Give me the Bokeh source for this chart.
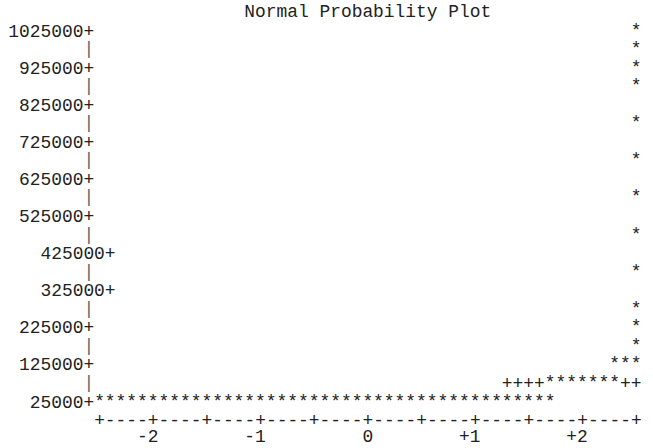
from bokeh.plotting import figure
from bokeh.models import ColumnDataSource, Range1d
from bokeh.embed import file_html
from bokeh.resources import INLINE
from bokeh.core.properties import value

# ---------------- data ----------------
title_text = "Normal Probability Plot"

# observations plotted with '*': (normal quantile, value)
obs_q = [-2.5, -2.4, -2.3, -2.2, -2.1, -2.0, -1.9, -1.8, -1.7, -1.6,
         -1.5, -1.4, -1.3, -1.2, -1.1, -1.0, -0.9, -0.8, -0.7, -0.6,
         -0.5, -0.4, -0.3, -0.2, -0.1, 0.0, 0.1, 0.2, 0.3, 0.4,
         0.5, 0.6, 0.7, 0.8, 0.9, 1.0, 1.1, 1.2, 1.3, 1.4,
         1.5, 1.6, 1.7,
         1.7, 1.8, 1.9, 2.0, 2.1, 2.2, 2.3,
         2.3, 2.4, 2.5,
         2.5, 2.5, 2.5, 2.5, 2.5, 2.5, 2.5, 2.5, 2.5, 2.5, 2.5, 2.5]
obs_v = [25000, 25000, 25000, 25000, 25000, 25000, 25000, 25000, 25000, 25000,
         25000, 25000, 25000, 25000, 25000, 25000, 25000, 25000, 25000, 25000,
         25000, 25000, 25000, 25000, 25000, 25000, 25000, 25000, 25000, 25000,
         25000, 25000, 25000, 25000, 25000, 25000, 25000, 25000, 25000, 25000,
         25000, 25000, 25000,
         75000, 75000, 75000, 75000, 75000, 75000, 75000,
         125000, 125000, 125000,
         175000, 225000, 275000, 375000, 475000, 575000, 675000, 775000,
         875000, 925000, 975000, 1025000]

# reference line plotted with '+'
ref_q = [1.3, 1.4, 1.5, 1.6, 2.4, 2.5]
ref_v = [75000, 75000, 75000, 75000, 75000, 75000]

ytick_vals = [1025000, 925000, 825000, 725000, 625000, 525000,
              425000, 325000, 225000, 125000, 25000]
ytick_labels = ["1025000", "925000", "825000", "725000", "625000", "525000",
                "425000", "325000", "225000", "125000", "25000"]
xtick_vals = [-2, -1, 0, 1, 2]
xtick_labels = ["-2", "-1", "0", "+1", "+2"]

# ---------------- layout (line-printer grid) ----------------
COL = 0.1        # quantile units per character column
ROW = 50000      # value units per text row
X0 = -2.5        # quantile at column 0
Y0 = 1025000     # value at row 0
CW = 10.73       # px per column
RH = 18.55       # px per row
PX0 = 99         # px of column 0 centre inside figure
PY0 = 30         # px of row 0 centre inside figure
W, H = 653, 448

FONT = value("Liberation Mono")
FSIZE = "17.9px"
COLOR = "#222222"

x_start = X0 - PX0 / CW * COL
x_end = x_start + W / CW * COL
y_end = Y0 + PY0 / RH * ROW
y_start = y_end - H / RH * ROW

p = figure(width=W, height=H, output_backend="svg", toolbar_location=None,
           x_range=Range1d(x_start, x_end), y_range=Range1d(y_start, y_end),
           x_axis_location=None, y_axis_location=None,
           min_border=0, min_border_left=0, min_border_right=0,
           min_border_top=0, min_border_bottom=0)
p.grid.visible = False
p.outline_line_color = None
p.background_fill_color = "white"
p.border_fill_color = "white"

def txt(xs, ys, texts, align="center", color=COLOR):
    src = ColumnDataSource(dict(x=xs, y=ys, t=texts))
    p.text(x="x", y="y", text="t", source=src, text_font=FONT,
           text_font_size=FSIZE, text_color=color, text_align=align,
           text_baseline="middle")

# data points
txt(obs_q, obs_v, ["*"] * len(obs_q))
txt(ref_q, ref_v, ["+"] * len(ref_q))

# y axis: tick labels ending with '+', '|' between them
shift = {425000: 2, 325000: 2}
lab_x = [X0 + (-1 + shift.get(v, 0) + 0.5) * COL for v in ytick_vals]
txt(lab_x, ytick_vals, [s + "+" for s in ytick_labels], align="right")
bars_y = [(a + b) / 2 for a, b in zip(ytick_vals[:-1], ytick_vals[1:])]
txt([X0 - COL] * len(bars_y), bars_y, ["|"] * len(bars_y), color="#666666")

# x axis line and tick labels
axis_str = "+----" * 10 + "+"
txt([X0 - 0.5 * COL], [Y0 - 21 * ROW], [axis_str], align="left")
txt([v + 0.5 * COL for v in xtick_vals], [Y0 - 21.85 * ROW] * len(xtick_vals),
    xtick_labels, align="right")

# title
txt([0.0], [Y0 + ROW], [title_text])

open("out.html", "w").write(file_html(p, INLINE))
